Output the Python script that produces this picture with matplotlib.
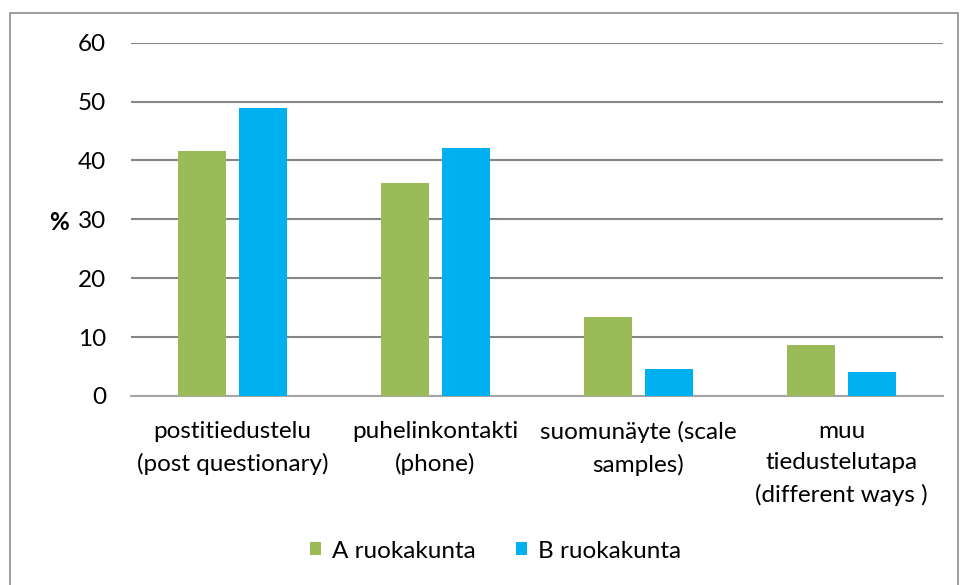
import matplotlib.pyplot as plt
from matplotlib.patches import Rectangle
import numpy as np

plt.rcParams['font.family'] = ['Lato', 'DejaVu Sans']

categories = ["postitiedustelu\n(post questionary)",
              "puhelinkontakti\n(phone)",
              "suomunäyte (scale\nsamples)",
              "muu\ntiedustelutapa\n(different ways )"]
a_values = [41.6, 36.1, 13.4, 8.7]
b_values = [48.9, 42.1, 4.6, 4.1]
series_names = ["A ruokakunta", "B ruokakunta"]
yticks = [0, 10, 20, 30, 40, 50, 60]

fs = 17.5

fig = plt.figure(figsize=(9.61, 5.85), dpi=100)
ax = fig.add_axes([0.1363, 0.3231, 0.845, 0.6039])

# outer chart frame
fig.patches.append(Rectangle((10 / 961, -0.05), 948 / 961, 1.05 - 13 / 585,
                             transform=fig.transFigure, fill=False,
                             edgecolor='#8c8c8c', linewidth=1.2))

x = np.arange(len(categories))
w = 0.236
off = 0.149
ax.bar(x - off, a_values, w, color='#9BBB59', label=series_names[0], zorder=3)
ax.bar(x + off, b_values, w, color='#00B0F0', label=series_names[1], zorder=3)

ax.set_xlim(-0.5, len(categories) - 0.5)
ax.set_ylim(0, 60)
ax.set_yticks(yticks)
ax.set_yticklabels([str(t) for t in yticks], fontsize=fs)
ax.yaxis.grid(True, color='#868686', linewidth=1.5, zorder=0)
ax.set_axisbelow(True)
for s in ['top', 'right', 'left']:
    ax.spines[s].set_visible(False)
ax.spines['bottom'].set_color('#a6a6a6')
ax.spines['bottom'].set_linewidth(1.5)
ax.tick_params(axis='both', length=0)
ax.tick_params(axis='y', pad=18)

ax.set_xticks(x)
ax.set_xticklabels(categories, fontsize=fs, linespacing=1.6, va='top')
ax.tick_params(axis='x', pad=18)

ax.set_ylabel('%', fontsize=fs, fontweight='bold', rotation=0, va='center')
ax.yaxis.set_label_coords(-0.089, 0.49)

fig.legend(loc='center', bbox_to_anchor=(0.5 + 15 / 961, 1 - 551 / 585), ncol=2,
           frameon=False, fontsize=fs, handlelength=0.45, handleheight=0.45,
           handletextpad=0.45, columnspacing=1.65)

fig.savefig('out.png', dpi=100)
